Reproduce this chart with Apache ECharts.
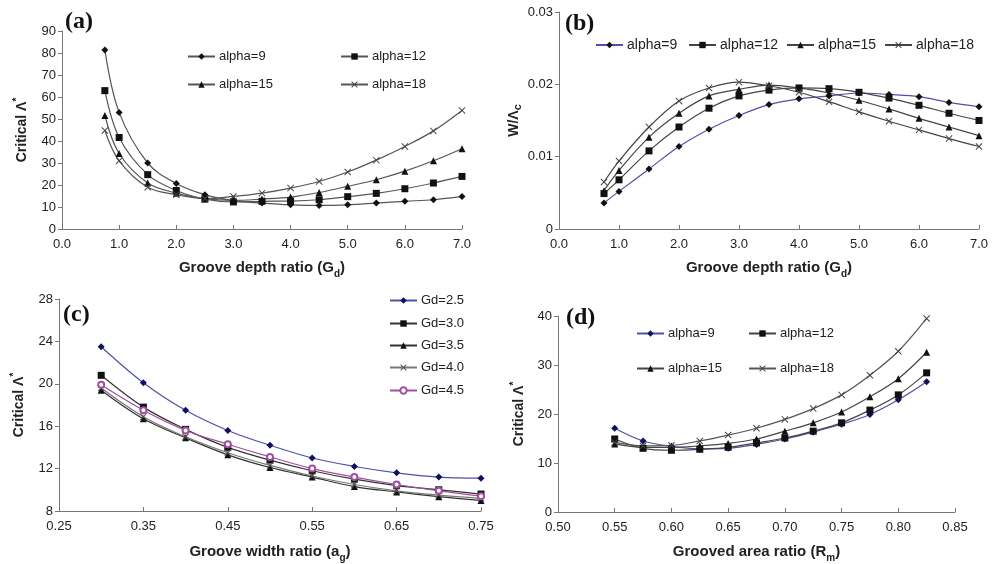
<!DOCTYPE html>
<html>
<head>
<meta charset="utf-8">
<script src="https://cdn.jsdelivr.net/npm/echarts@6/dist/echarts.min.js"></script>
<style>
  html, body { margin: 0; padding: 0; background: #fff; }
  #chart { width: 998px; height: 564px; }
</style>
</head>
<body>
<div id="chart"></div>
<script>
// Groove depth ratio values (panels a and b)
const depthRatio = [0.75, 1.0, 1.5, 2.0, 2.5, 3.0, 3.5, 4.0, 4.5, 5.0, 5.5, 6.0, 6.5, 7.0];

// (a) Critical Λ* vs groove depth ratio
const critAlpha9  = [81.4, 53.0, 30.0, 20.7, 15.6, 12.9, 11.8, 11.0, 10.7, 11.0, 11.8, 12.6, 13.3, 14.8];
const critAlpha12 = [62.9, 41.6, 24.7, 17.5, 13.6, 12.3, 12.6, 12.7, 13.3, 14.7, 16.2, 18.3, 20.9, 23.9];
const critAlpha15 = [51.6, 34.3, 20.9, 16.3, 13.8, 13.0, 13.6, 14.5, 16.6, 19.4, 22.4, 26.3, 31.0, 36.5];
const critAlpha18 = [44.8, 31.0, 19.0, 15.6, 13.8, 14.8, 16.3, 18.6, 21.6, 25.9, 31.3, 37.5, 44.6, 53.9];

// (b) W/Λc vs groove depth ratio
const wAlpha9  = [0.0036, 0.0052, 0.0083, 0.0114, 0.0138, 0.0157, 0.0172, 0.0180, 0.0184, 0.0188, 0.0186, 0.0183, 0.0175, 0.0169];
const wAlpha12 = [0.0049, 0.0068, 0.0108, 0.0141, 0.0167, 0.0184, 0.0192, 0.0195, 0.0194, 0.0189, 0.0181, 0.0171, 0.0160, 0.0150];
const wAlpha15 = [0.0053, 0.0081, 0.0127, 0.0160, 0.0184, 0.0193, 0.0199, 0.0195, 0.0188, 0.0178, 0.0166, 0.0153, 0.0141, 0.0129];
const wAlpha18 = [0.0065, 0.0094, 0.0141, 0.0177, 0.0195, 0.0203, 0.0198, 0.0189, 0.0176, 0.0162, 0.0149, 0.0137, 0.0125, 0.0114];

// (c) Critical Λ* vs groove width ratio
const widthRatio = [0.30, 0.35, 0.40, 0.45, 0.50, 0.55, 0.60, 0.65, 0.70, 0.75];
const widthGd25 = [23.5, 20.1, 17.5, 15.6, 14.2, 13.0, 12.2, 11.6, 11.2, 11.1];
const widthGd30 = [20.8, 17.8, 15.7, 14.0, 12.8, 11.8, 11.0, 10.4, 10.0, 9.6];
const widthGd35 = [19.4, 16.7, 14.9, 13.3, 12.1, 11.2, 10.3, 9.8, 9.35, 9.0];
const widthGd40 = [19.6, 16.9, 15.0, 13.5, 12.3, 11.3, 10.5, 9.9, 9.5, 9.2];
const widthGd45 = [19.9, 17.5, 15.6, 14.3, 13.1, 12.0, 11.2, 10.5, 9.9, 9.4];

// (d) Critical Λ* vs grooved area ratio
const areaRatio = [0.55, 0.575, 0.60, 0.625, 0.65, 0.675, 0.70, 0.725, 0.75, 0.775, 0.80, 0.825];
const areaAlpha9  = [17.1, 14.5, 13.4, 12.9, 13.0, 13.8, 14.9, 16.3, 17.9, 19.9, 22.9, 26.6];
const areaAlpha12 = [14.9, 13.0, 12.6, 12.8, 13.2, 14.1, 15.1, 16.5, 18.2, 20.8, 23.9, 28.4];
const areaAlpha15 = [13.9, 13.2, 13.2, 13.5, 14.0, 14.9, 16.5, 18.2, 20.4, 23.5, 27.2, 32.6];
const areaAlpha18 = [14.2, 13.5, 13.6, 14.5, 15.7, 17.1, 18.9, 21.1, 23.9, 27.9, 32.8, 39.5];

const FONT = '"Liberation Sans", Arial, sans-serif';
const SERIF = 'bold 24px "Liberation Serif", "Times New Roman", serif';
const CROSS = 'path://M0,1L1,0L5,4L9,0L10,1L6,5L10,9L9,10L5,6L1,10L0,9L4,5Z';
const BLUE_LINE = '#5050a8';
const NAVY = '#101060';
const PURPLE = '#a050a0';

function pairs(xs, ys) { return xs.map((x, i) => [x, ys[i]]); }

function mkSeries(name, grid, xs, ys, symbol, size, lineColor, markColor, extra) {
  return Object.assign({
    name: name,
    type: 'line',
    xAxisIndex: grid,
    yAxisIndex: grid,
    data: pairs(xs, ys),
    smooth: 0.35,
    symbol: symbol,
    symbolSize: size,
    showAllSymbol: true,
    lineStyle: { color: lineColor, width: 1.2 },
    itemStyle: { color: markColor, borderWidth: 0 },
    emphasis: { disabled: true },
    animation: false,
    z: 3
  }, extra || {});
}

function xAxisDef(grid, min, max, interval, digits, nameRich, gap) {
  return {
    type: 'value', gridIndex: grid, min: min, max: max, interval: interval,
    axisLine: { show: true, lineStyle: { color: '#777', width: 1 } },
    axisTick: { show: true, inside: true, length: 4, lineStyle: { color: '#777' } },
    splitLine: { show: false },
    axisLabel: { color: '#222', fontSize: 13, fontFamily: FONT, margin: 9,
      formatter: v => v.toFixed(digits) },
    name: nameRich, nameLocation: 'middle', nameGap: gap,
    nameTextStyle: {
      fontFamily: FONT, color: '#222',
      rich: {
        b: { fontSize: 15, fontWeight: 'bold', fontFamily: FONT, color: '#222', lineHeight: 22 },
        sub: { fontSize: 10, fontWeight: 'bold', fontFamily: FONT, color: '#222', lineHeight: 22, verticalAlign: 'bottom' }
      }
    }
  };
}

function yAxisDef(grid, min, max, interval, fmt, nameRich, gap) {
  return {
    type: 'value', gridIndex: grid, min: min, max: max, interval: interval,
    axisLine: { show: true, lineStyle: { color: '#777', width: 1 } },
    axisTick: { show: true, length: 4, lineStyle: { color: '#777' } },
    splitLine: { show: false },
    axisLabel: { color: '#222', fontSize: 13, fontFamily: FONT, margin: 6, formatter: fmt },
    name: nameRich, nameLocation: 'middle', nameGap: gap, nameRotate: 90,
    nameTextStyle: {
      fontFamily: FONT, color: '#222',
      rich: {
        b: { fontSize: 14, fontWeight: 'bold', fontFamily: FONT, color: '#222', lineHeight: 20 },
        sup: { fontSize: 10, fontWeight: 'bold', fontFamily: FONT, color: '#222', lineHeight: 20, verticalAlign: 'top' },
        sub: { fontSize: 11, fontWeight: 'bold', fontFamily: FONT, color: '#222', lineHeight: 20, verticalAlign: 'bottom' }
      }
    }
  };
}

// Legend entries carry a panel prefix in the series name; the prefix is not displayed.
function legendItem(name, left, centerY, fontSize) {
  return {
    data: [name], left: left, top: centerY - 4, padding: 0,
    itemWidth: 27, itemHeight: 8, itemGap: 0,
    selectedMode: false,
    textStyle: { fontSize: fontSize, fontFamily: FONT, color: '#222', padding: [0, 0, 0, -1] },
    formatter: n => n.split(':')[1]
  };
}

const series = [
  // (a)
  mkSeries('a:alpha=9',  0, depthRatio, critAlpha9,  'diamond', 7, '#555', '#111'),
  mkSeries('a:alpha=12', 0, depthRatio, critAlpha12, 'rect', 7, '#555', '#111'),
  mkSeries('a:alpha=15', 0, depthRatio, critAlpha15, 'triangle', 7, '#555', '#111'),
  mkSeries('a:alpha=18', 0, depthRatio, critAlpha18, CROSS, 7, '#555', '#444'),
  // (b)
  mkSeries('b:alpha=9',  1, depthRatio, wAlpha9,  'diamond', 7, BLUE_LINE, '#111'),
  mkSeries('b:alpha=12', 1, depthRatio, wAlpha12, 'rect', 7, '#444', '#111'),
  mkSeries('b:alpha=15', 1, depthRatio, wAlpha15, 'triangle', 7, '#444', '#111'),
  mkSeries('b:alpha=18', 1, depthRatio, wAlpha18, CROSS, 7, '#444', '#444'),
  // (c)
  mkSeries('c:Gd=2.5', 2, widthRatio, widthGd25, 'diamond', 7, BLUE_LINE, NAVY),
  mkSeries('c:Gd=3.0', 2, widthRatio, widthGd30, 'rect', 7, '#333', '#111'),
  mkSeries('c:Gd=3.5', 2, widthRatio, widthGd35, 'triangle', 7, '#333', '#111'),
  mkSeries('c:Gd=4.0', 2, widthRatio, widthGd40, CROSS, 7, '#777', '#555'),
  mkSeries('c:Gd=4.5', 2, widthRatio, widthGd45, 'emptyCircle', 6, PURPLE, PURPLE,
    { itemStyle: { color: PURPLE, borderColor: PURPLE, borderWidth: 1 } }),
  // (d)
  mkSeries('d:alpha=9',  3, areaRatio, areaAlpha9,  'diamond', 7, BLUE_LINE, NAVY),
  mkSeries('d:alpha=12', 3, areaRatio, areaAlpha12, 'rect', 7, '#444', '#111'),
  mkSeries('d:alpha=15', 3, areaRatio, areaAlpha15, 'triangle', 7, '#444', '#111'),
  mkSeries('d:alpha=18', 3, areaRatio, areaAlpha18, CROSS, 7, '#555', '#444')
];

const option = {
  backgroundColor: '#ffffff',
  animation: false,
  grid: [
    { left: 62,  top: 31,  width: 400, height: 198 },
    { left: 559, top: 12,  width: 420, height: 217 },
    { left: 59,  top: 299, width: 422, height: 217 },
    { left: 558, top: 316, width: 397, height: 201 }
  ],
  xAxis: [
    xAxisDef(0, 0, 7, 1, 1, '{b|Groove depth ratio (G}{sub|d}{b|)}', 28),
    xAxisDef(1, 0, 7, 1, 1, '{b|Groove depth ratio (G}{sub|d}{b|)}', 28),
    xAxisDef(2, 0.25, 0.75, 0.1, 2, '{b|Groove width ratio (a}{sub|g}{b|)}', 30),
    xAxisDef(3, 0.50, 0.85, 0.05, 2, '{b|Grooved area ratio (R}{sub|m}{b|)}', 29)
  ],
  yAxis: [
    yAxisDef(0, 0, 90, 10, v => String(v), '{b|Critical Λ}{sup|*}', 30),
    yAxisDef(1, 0, 0.03, 0.01, v => (v === 0 ? '0' : v.toFixed(2)), '{b|W/Λ}{sub|c}', 27),
    yAxisDef(2, 8, 28, 4, v => String(v), '{b|Critical Λ}{sup|*}', 30),
    yAxisDef(3, 0, 40, 10, v => String(v), '{b|Critical Λ}{sup|*}', 29)
  ],
  legend: [
    legendItem('a:alpha=9', 187, 54, 13),
    legendItem('a:alpha=12', 340, 54, 13),
    legendItem('a:alpha=15', 187, 82, 13),
    legendItem('a:alpha=18', 340, 82, 13),
    legendItem('b:alpha=9', 595, 42, 14),
    legendItem('b:alpha=12', 688, 42, 14),
    legendItem('b:alpha=15', 786, 42, 14),
    legendItem('b:alpha=18', 884, 42, 14),
    legendItem('c:Gd=2.5', 389, 298, 13),
    legendItem('c:Gd=3.0', 389, 321, 13),
    legendItem('c:Gd=3.5', 389, 343, 13),
    legendItem('c:Gd=4.0', 389, 365, 13),
    legendItem('c:Gd=4.5', 389, 388, 13),
    legendItem('d:alpha=9', 636, 331, 13),
    legendItem('d:alpha=12', 748, 331, 13),
    legendItem('d:alpha=15', 636, 366, 13),
    legendItem('d:alpha=18', 748, 366, 13)
  ],
  graphic: [
    { type: 'text', left: 65,  top: 10,  style: { text: '(a)', font: SERIF, fill: '#111' } },
    { type: 'text', left: 565, top: 12,  style: { text: '(b)', font: SERIF, fill: '#111' } },
    { type: 'text', left: 63,  top: 303, style: { text: '(c)', font: SERIF, fill: '#111' } },
    { type: 'text', left: 566, top: 306, style: { text: '(d)', font: SERIF, fill: '#111' } }
  ],
  series: series
};

const chart = echarts.init(document.getElementById('chart'), null, { renderer: 'canvas' });
chart.setOption(option);
</script>
</body>
</html>
